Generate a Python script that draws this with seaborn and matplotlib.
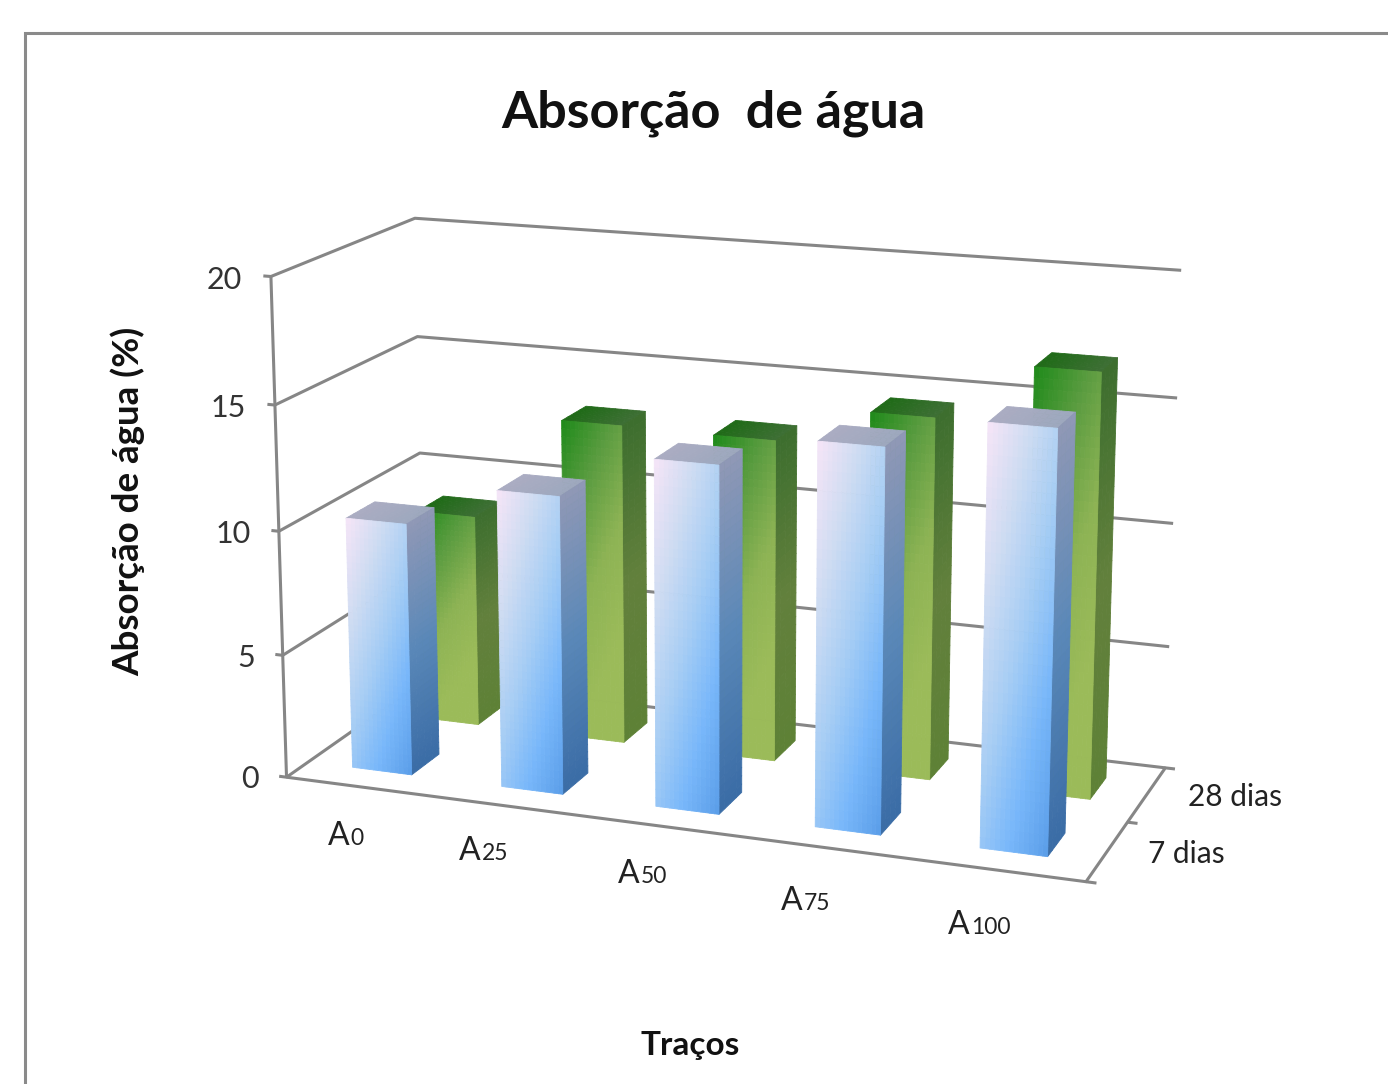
import numpy as np
import pandas as pd
import seaborn as sns
import matplotlib
matplotlib.use("Agg")
import matplotlib.pyplot as plt
from matplotlib.patches import Rectangle
from matplotlib.transforms import IdentityTransform
from mpl_toolkits.mplot3d import proj3d
from mpl_toolkits.mplot3d.art3d import Poly3DCollection

# Water absorption (%) per mix and curing age
tracos = ["A0", "A25", "A50", "A75", "A100"]
idades = ["7 dias", "28 dias"]
absorcao_7 = [10.2, 11.9, 13.7, 14.95, 16.2]
absorcao_28 = [8.8, 13.15, 13.1, 14.55, 16.85]
z_ticks = [0, 5, 10, 15, 20]

W, H = 1388, 1084
GRID = "#868686"
FONT = "Lato"

sns.set_theme(style="white")
plt.rcParams["font.family"] = [FONT, "DejaVu Sans"]

df = pd.DataFrame({"traco": tracos * 2,
                   "idade": [idades[0]] * 5 + [idades[1]] * 5,
                   "valor": absorcao_7 + absorcao_28})

# Camera: a projective map from (mix, age, value) to figure pixels, solved
# by least squares from the corners of the chart box.
box_3d = [(0, 0, 0), (0, 0, 5), (0, 0, 10), (0, 0, 20),
          (0, 2, 0), (0, 2, 5), (0, 2, 10), (0, 2, 15), (0, 2, 20),
          (5, 2, 0), (5, 2, 5), (5, 2, 10), (5, 2, 15), (5, 2, 20),
          (5, 0, 0)]
box_px = [(287, 777), (283, 656), (279, 530), (270, 277),
          (424, 681), (422, 567), (420, 453), (417, 337), (416, 218),
          (1165, 767), (1170, 647), (1173, 524), (1177, 398), (1181, 270),
          (1086, 882)]


def solve_camera(points, pixels):
    rows = []
    for (x, y, z), (u, v) in zip(points, pixels):
        u, v = u / 1000, (H - v) / 1000
        rows.append([x, y, z, 1, 0, 0, 0, 0, -u * x, -u * y, -u * z, -u])
        rows.append([0, 0, 0, 0, x, y, z, 1, -v * x, -v * y, -v * z, -v])
    p = np.linalg.svd(np.array(rows, float))[2][-1].reshape(3, 4)
    if p[2, 3] < 0:
        p = -p
    return np.vstack([p[0] * 1000, p[1] * 1000, [0, 1, 0, 0], p[2]])


fig = plt.figure(figsize=(W / 100, H / 100), dpi=100, facecolor="white")
ax = fig.add_axes([0, (H - W) / 2 / H, 1, W / H], projection="3d")
camera = solve_camera(box_3d, box_px)
ax.set_proj_type("ortho")
ax.get_proj = lambda: camera
ax.viewLim.intervalx = (0, W)
ax.viewLim.intervaly = ((H - W) / 2, (H + W) / 2)
ax.set_axis_off()
ax.patch.set_visible(False)
ax.computed_zorder = False

# Gradients of the bar faces
blue_front = sns.blend_palette(["#F6E5F7", "#CFDCF2", "#A6CDF4", "#78B7FA", "#5A9DE8"], as_cmap=True)
blue_side = sns.blend_palette(["#9098B6", "#5A88B8", "#3A6CA6"], as_cmap=True)
blue_top = sns.blend_palette(["#ABACC2", "#9DA8BE"], as_cmap=True)
green_front = sns.blend_palette(["#1E8A1A", "#5B9C40", "#8DB354", "#9BBB59", "#9BBB59"], as_cmap=True)
green_side = sns.blend_palette(["#3C6E2E", "#62803C", "#5E8136"], as_cmap=True)
green_top = sns.blend_palette(["#1F6B18", "#3F6F35"], as_cmap=True)


def shaded_face(corner, du, dv, shade, cmap, nu=14, nv=40, zorder=1):
    corner, du, dv = map(np.asarray, (corner, du, dv))
    verts, colors = [], []
    for i in range(nu):
        for j in range(nv):
            a = corner + du * i / nu + dv * j / nv
            verts.append([a, a + du / nu, a + du / nu + dv / nv, a + dv / nv])
            colors.append(cmap(shade((i + .5) / nu, (j + .5) / nv)))
    face = Poly3DCollection(verts, facecolors=colors, edgecolors=colors,
                            linewidths=0.6, zorder=zorder)
    ax.add_collection3d(face)


def draw_bar(x0, y0, value, width, depth, cmaps, mix, zorder):
    front, side, top = cmaps
    x1 = x0 + width
    shaded_face((x0, y0, value), (width, 0, 0), (0, depth, 0), lambda u, v: u,
                top, nu=10, nv=4, zorder=zorder)
    shaded_face((x1, y0, value), (0, depth, 0), (0, 0, -value), lambda u, v: v,
                side, nu=4, zorder=zorder)
    shaded_face((x0, y0, value), (width, 0, 0), (0, 0, -value),
                lambda u, v: mix * u + (1 - mix) * v, front, zorder=zorder)


def line3d(xs, ys, zs, lw=2.2):
    ax.plot(xs, ys, zs, color=GRID, lw=lw, solid_capstyle="butt", zorder=0)


def label_at(x, y, z, s, **kw):
    px, py, _ = proj3d.proj_transform(x, y, z, camera)
    return ax.text2D(px, py - 3, s, transform=ax.transData, **kw)


# Chart box: gridlines on the left and back walls, then floor outline and ticks
for z in z_ticks:
    line3d([-.05, 0, 0, 5.0], [0, 0, 2, 2], [z, z, z, z])
    label_at(-.19, 0, z, str(z), ha="right", va="center_baseline", fontsize=22,
             color="#333333", zorder=5)
line3d([0, 0], [0, 0], [0, 20])
line3d([0, 5, 5, 5.06], [0, 0, 2, 2], [0, 0, 0, 0])
line3d([5, 5.06], [0, 0], [0, 0])
line3d([5, 5.06], [1, 1], [0, 0])

# Bars: back row first so the front row covers it
gap = 1.5
size = 1 / (1 + gap)
offset = (1 - size) / 2
rows = [(idades[1], 1, (green_front, green_side, green_top), .3, 2),
        (idades[0], 0, (blue_front, blue_side, blue_top), .42, 3)]
for idade, row, cmaps, mix, z_level in rows:
    values = df.loc[df["idade"] == idade, "valor"].to_numpy()
    for i, value in enumerate(values):
        draw_bar(i + offset, row + offset, value, size, size, cmaps, mix, z_level)


def px_text(x, y, s, **kw):
    return fig.text(x / W, 1 - y / H, s, **kw)


px_text(713, 113, "Absorção  de água", ha="center", va="center",
        fontsize=37.5, fontweight="bold", color="#111111")
px_text(128, 501, "Absorção de água (%)", ha="center", va="center",
        rotation=90, fontsize=26.5, fontweight="bold", color="#111111")
px_text(690, 1045, "Traços", ha="center", va="center",
        fontsize=24, fontweight="bold", color="#111111")

px_text(1188, 797, idades[1], ha="left", va="center", fontsize=21.5, color="#222222")
px_text(1148, 854, idades[0], ha="left", va="center", fontsize=21.5, color="#222222")

# Mix labels: a large letter followed by a smaller number on the same baseline
label_spots = [(328, 845), (459, 860), (618, 883), (781, 910), (948, 934)]
renderer = fig.canvas.get_renderer()
for name, (lx, ly) in zip(tracos, label_spots):
    letter = px_text(lx, ly, name[0], ha="left", va="baseline", fontsize=23, color="#222222")
    right = letter.get_window_extent(renderer).x1
    px_text(right + 1, ly, name[1:], ha="left", va="baseline", fontsize=16.5, color="#222222")

# Outer frame of the chart area, running off the right and bottom edges
fig.add_artist(Rectangle((25, -40), W + 100, H + 40 - 33, transform=IdentityTransform(),
                         fill=False, edgecolor="#8A8A8A", linewidth=2.2))

fig.savefig("out.png", dpi=100, facecolor="white")
